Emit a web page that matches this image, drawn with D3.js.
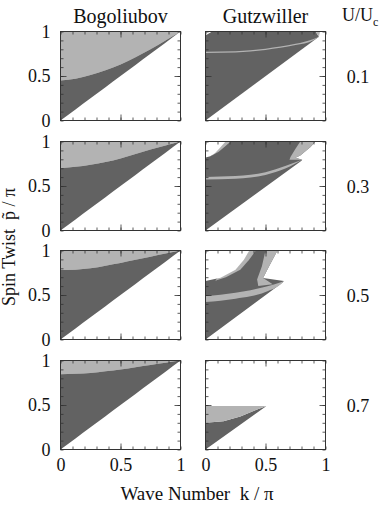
<!DOCTYPE html>
<html><head><meta charset="utf-8">
<script src="https://cdn.jsdelivr.net/npm/d3@7"></script>
<style>
body{margin:0;background:#fff}
svg text{font-family:"Liberation Serif","Times New Roman",serif !important;fill:#111}
</style>
</head><body>
<svg id="chart" width="382" height="505"></svg>
<script>
// ---------- data ----------
const columns = ["Bogoliubov", "Gutzwiller"];
const uValues = ["0.1", "0.3", "0.5", "0.7"];
const tickLabels = [0, 0.5, 1];
const minorTicks = [0, 0.1, 0.2, 0.3, 0.4, 0.5, 0.6, 0.7, 0.8, 0.9, 1];
const majorTicks = [0.5];

// Bogoliubov: upper edge of the dark continuum (lower edge is p = k)
const bogK = [0, 0.125, 0.25, 0.375, 0.5, 0.625, 0.75, 0.875, 1];
const bogUpper01 = [0.45, 0.47, 0.51, 0.565, 0.63, 0.71, 0.80, 0.90, 1.0];
const bogUpper03 = [0.70, 0.715, 0.74, 0.77, 0.81, 0.86, 0.91, 0.955, 1.0];
const bogUpper05 = [0.78, 0.785, 0.80, 0.83, 0.86, 0.895, 0.93, 0.965, 1.0];
const bogUpper07 = [0.845, 0.85, 0.86, 0.88, 0.90, 0.925, 0.95, 0.975, 1.0];

// Gutzwiller regions, [k, p] vertices
const gutz01Dark  = [[0,0],[0.945,0.94],[0.917,1],[0,1]];
const gutz01Light = [[0.945,0.94],[0.955,1],[0.917,1]];
const gutz01White = [[0,0.955],[0.055,1],[0,1]];
const gutz01BandK  = [0, 0.25, 0.5, 0.75, 0.9, 0.944];
const gutz01BandLo = [0.759, 0.765, 0.793, 0.847, 0.903, 0.938];
const gutz01BandHi = [0.773, 0.779, 0.807, 0.861, 0.917, 0.942];

const gutz03Dark  = [[0,0],[0.80,0.785],[0.806,0.796],[0.75,0.818],[0.79,0.844],[0.875,0.937],[0.917,1],[0,1]];
const gutz03Light = [[0.70,0.795],[0.806,0.796],[0.75,0.818],[0.79,0.844],[0.875,0.937],[0.917,1],[0.79,1],[0.75,0.918],[0.708,0.825]];
const gutz03Fringe = [[0.05,0.84],[0.11,0.885],[0.16,0.94],[0.21,1],[0.10,1]];
const gutz03White = [[0,0.82],[0.04,0.835],[0.08,0.87],[0.125,0.935],[0.167,1],[0,1]];
const gutz03BandK  = [0, 0.25, 0.5, 0.67, 0.806];
const gutz03BandLo = [0.572, 0.582, 0.625, 0.70, 0.796];
const gutz03BandHi = [0.602, 0.612, 0.655, 0.728, 0.796];

const gutz05Dark  = [[0,0],[0.64,0.637],[0.653,0.656],[0.48,0.69],[0.53,0.822],[0.60,1],[0,1]];
const gutz05Light = [[0.44,0.60],[0.56,0.62],[0.48,0.69],[0.53,0.822],[0.60,1],[0.50,1],[0.47,0.822],[0.43,0.674]];
const gutz05Fringe = [[0.08,0.66],[0.17,0.70],[0.29,0.785],[0.36,0.89],[0.42,1],[0.3,1]];
const gutz05White = [[0,0.656],[0.125,0.693],[0.25,0.785],[0.32,0.896],[0.365,1],[0,1]];
const gutz05BandK  = [0, 0.25, 0.5, 0.64, 0.653];
const gutz05BandLo = [0.422, 0.459, 0.533, 0.637, 0.656];
const gutz05BandHi = [0.489, 0.526, 0.593, 0.650, 0.656];

const gutz07Dark  = [[0,0],[0.508,0.49],[0.43,0.45],[0.29,0.37],[0.15,0.317],[0,0.30]];
const gutz07Light = [[0,0.49],[0.508,0.49],[0.43,0.45],[0.29,0.37],[0.15,0.317],[0,0.30]];

// ---------- build tables ----------
const bogRows = [bogUpper01, bogUpper03, bogUpper05, bogUpper07];
const gutzRows = [
  {dark:gutz01Dark, light:[gutz01Light], white:[gutz01White], band:[gutz01BandK,gutz01BandLo,gutz01BandHi]},
  {dark:gutz03Dark, light:[gutz03Light, gutz03Fringe], white:[gutz03White], band:[gutz03BandK,gutz03BandLo,gutz03BandHi]},
  {dark:gutz05Dark, light:[gutz05Light, gutz05Fringe], white:[gutz05White], band:[gutz05BandK,gutz05BandLo,gutz05BandHi]},
  {dark:gutz07Dark, light:[gutz07Light], white:[], band:null}
];

// ---------- layout ----------
const DARK = "#626262", LIGHT = "#b3b3b3", FRAME = "#333";
const FONT = "'Liberation Serif', 'Times New Roman', serif";
const colLeft = [60.5, 205.5];
const rowTop = [31.5, 141.5, 250.5, 360.5];
const pw = 120, ph = 89;
const FS = 18;

const svg = d3.select("#chart");
const x = d3.scaleLinear().domain([0,1]).range([0,pw]);
const y = d3.scaleLinear().domain([0,1]).range([ph,0]);
const poly = d3.line().x(d=>x(d[0])).y(d=>y(d[1])).curve(d3.curveLinearClosed);

svg.append("defs").append("clipPath").attr("id","pclip")
  .append("rect").attr("width",pw).attr("height",ph);

const styleLabels = sel => sel.selectAll("text")
  .attr("font-size",FS).style("font-family",FONT).attr("fill","#111");

rowTop.forEach((top, r) => {
  colLeft.forEach((left, c) => {
    const g = svg.append("g").attr("transform",`translate(${left},${top})`);
    const plot = g.append("g").attr("clip-path","url(#pclip)");
    if (c === 0) {
      const up = bogRows[r];
      const idx = d3.range(bogK.length);
      plot.append("path").attr("fill",LIGHT)
        .attr("d", d3.area().x(i=>x(bogK[i])).y0(i=>y(up[i])).y1(()=>y(1)).curve(d3.curveMonotoneX)(idx));
      plot.append("path").attr("fill",DARK)
        .attr("d", d3.area().x(i=>x(bogK[i])).y0(i=>y(bogK[i])).y1(i=>y(up[i])).curve(d3.curveMonotoneX)(idx));
    } else {
      const R = gutzRows[r];
      plot.append("path").attr("fill",DARK).attr("d",poly(R.dark));
      R.light.forEach(L => plot.append("path").attr("fill",LIGHT).attr("d",poly(L)));
      if (R.band) {
        const [bk, lo, hi] = R.band;
        plot.append("path").attr("fill",LIGHT)
          .attr("d", d3.area().x(i=>x(bk[i])).y0(i=>y(lo[i])).y1(i=>y(hi[i])).curve(d3.curveMonotoneX)(d3.range(bk.length)));
      }
      R.white.forEach(W => plot.append("path").attr("fill","#fff").attr("d",poly(W)));
    }
    // ticks (inside, all four sides)
    const tickAxis = (axis, tr, vals, size) => {
      const a = g.append("g").attr("transform",tr)
        .call(axis.tickValues(vals).tickSize(-size).tickFormat(""));
      a.select(".domain").remove();
      a.selectAll("line").attr("stroke",FRAME).attr("stroke-width",0.8);
    };
    tickAxis(d3.axisBottom(x), `translate(0,${ph})`, minorTicks, 3);
    tickAxis(d3.axisTop(x), `translate(0,0)`, minorTicks, 3);
    tickAxis(d3.axisLeft(y), `translate(0,0)`, minorTicks, 3);
    tickAxis(d3.axisRight(y), `translate(${pw},0)`, minorTicks, 3);
    tickAxis(d3.axisBottom(x), `translate(0,${ph})`, majorTicks, 6);
    tickAxis(d3.axisTop(x), `translate(0,0)`, majorTicks, 6);
    tickAxis(d3.axisLeft(y), `translate(0,0)`, majorTicks, 6);
    tickAxis(d3.axisRight(y), `translate(${pw},0)`, majorTicks, 6);
    g.append("rect").attr("width",pw).attr("height",ph)
      .attr("fill","none").attr("stroke",FRAME).attr("stroke-width",1);

    // tick labels
    if (c === 0) {
      const a = g.append("g").attr("font-family",null)
        .call(d3.axisLeft(y).tickValues(tickLabels).tickSize(0).tickPadding(10).tickFormat(d3.format("")));
      a.select(".domain").remove();
      styleLabels(a);
    }
    if (r === rowTop.length - 1) {
      const a = g.append("g").attr("transform",`translate(0,${ph})`)
        .call(d3.axisBottom(x).tickValues(tickLabels).tickSize(0).tickPadding(9).tickFormat(d3.format("")));
      a.select(".domain").remove();
      styleLabels(a);
    }
    if (r === 0) {
      g.append("text").attr("x",pw/2).attr("y",-9).attr("text-anchor","middle")
        .attr("font-size",FS+2).style("font-family",FONT).text(columns[c]);
    }
  });
  // U/Uc value labels
  svg.append("text").attr("x",358).attr("y",top+ph/2+7).attr("text-anchor","middle")
    .attr("font-size",FS).style("font-family",FONT).text(uValues[r]);
});

// U/Uc header
const hdr = svg.append("text").attr("x",342).attr("y",21).attr("font-size",FS).style("font-family",FONT);
hdr.append("tspan").text("U/U");
hdr.append("tspan").attr("font-size",12).attr("dy",5).text("c");

// axis titles
svg.append("text").attr("x",197).attr("y",500).attr("text-anchor","middle")
  .attr("font-size",FS+1).style("font-family",FONT).attr("xml:space","preserve").text("Wave Number  k / \u03c0");
svg.append("text").attr("transform","translate(15,247) rotate(-90)").attr("text-anchor","middle")
  .attr("font-size",FS).style("font-family",FONT).attr("xml:space","preserve").text("Spin Twist  p\u0303 / \u03c0");
</script>
</body></html>
